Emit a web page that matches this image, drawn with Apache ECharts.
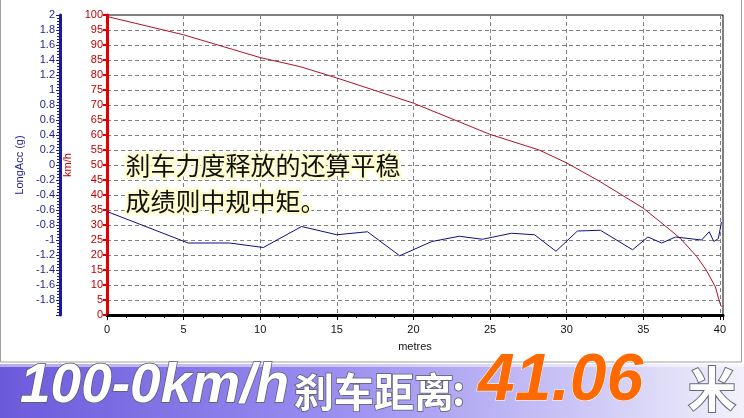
<!DOCTYPE html>
<html>
<head>
<meta charset="utf-8">
<script src="https://cdn.jsdelivr.net/npm/echarts@6/dist/echarts.min.js"></script>
<style>
html,body{margin:0;padding:0;background:#fff;}
#c{width:744px;height:418px;}
</style>
</head>
<body>
<div id="c"></div>
<script>
// Speed (km/h) vs distance (m)
const speedDist = [0, 5, 10, 12.6, 15, 17.4, 20, 25, 28.2, 30, 32.2, 35, 36.5, 37.4, 38.5, 39.1, 39.7, 40.0, 40.1];
const speedVals = [99.5, 93.4, 85.8, 82.8, 79, 75, 70.6, 60.2, 55, 50.7, 44.4, 35.6, 29.4, 25.6, 19.4, 15, 9.4, 3.9, 2.8];
// Longitudinal acceleration (g) vs distance (m)
const accDist = [0, 5.3, 8.0, 10.2, 12.7, 15.0, 17.0, 19.1, 21.2, 23.0, 24.5, 26.4, 27.9, 29.3, 30.7, 32.2, 34.3, 35.3, 36.2, 37.1, 38.8, 39.3, 39.6, 39.9, 40.1];
const accVals = [-0.62, -1.04, -1.04, -1.10, -0.82, -0.93, -0.89, -1.21, -1.02, -0.95, -0.99, -0.91, -0.93, -1.15, -0.88, -0.87, -1.13, -0.96, -1.04, -0.96, -1.00, -0.89, -1.02, -0.98, -0.76];

const xTitle = 'metres';
const speedTitle = 'km/h';
const accTitle = 'LongAcc (g)';
const noteLines = ['刹车力度释放的还算平稳', '成绩则中规中矩。'];
const bannerParts = ['100-0km/h', '刹车距离', ':', '41.06', '米'];

const chart = echarts.init(document.getElementById('c'), null, {renderer: 'canvas'});
const lab = {fontFamily: 'Liberation Sans, Arial, sans-serif', fontSize: 11};
const whiteText = {fill: '#fff', textVerticalAlign: 'bottom', stroke: '#5a5a6a', lineWidth: 1.5, shadowColor: 'rgba(40,40,60,0.6)', shadowBlur: 3, shadowOffsetX: 1, shadowOffsetY: 1};

chart.setOption({
  backgroundColor: '#fff',
  animation: false,
  grid: {left: 107, top: 15, right: 21, bottom: 103, show: true, borderColor: '#000', borderWidth: 1, backgroundColor: 'transparent'},
  xAxis: {
    type: 'value', min: 0, max: 40.2, interval: 5,
    name: xTitle, nameLocation: 'middle', nameGap: 26,
    nameTextStyle: Object.assign({color: '#111'}, lab),
    axisLine: {lineStyle: {color: '#000', width: 3}},
    axisTick: {show: true, length: 5, lineStyle: {color: '#000'}},
    minorTick: {show: true, splitNumber: 4, length: 3, lineStyle: {color: '#000'}},
    axisLabel: Object.assign({color: '#111', margin: 9, formatter: v => (Math.abs(v % 5) < 1e-6 ? String(v) : '')}, lab),
    splitLine: {show: true, lineStyle: {color: '#808080', type: [4, 3], width: 1}}
  },
  yAxis: [
    {
      type: 'value', min: 0, max: 100, interval: 5, position: 'left',
      name: speedTitle, nameLocation: 'middle', nameGap: 24, nameRotate: 90,
      nameTextStyle: Object.assign({color: '#c00000'}, lab),
      axisLine: {show: true, lineStyle: {color: '#e00000', width: 3}},
      axisTick: {show: true, length: 4, lineStyle: {color: '#e00000', width: 2}},
      axisLabel: Object.assign({color: '#c00000', margin: 4}, lab),
      splitLine: {show: true, lineStyle: {color: '#808080', type: [4, 3], width: 1}}
    },
    {
      type: 'value', min: -2, max: 2, interval: 0.2, position: 'left', offset: 47,
      name: accTitle, nameLocation: 'middle', nameGap: 32, nameRotate: 90,
      nameTextStyle: Object.assign({color: '#1f1f8f'}, lab),
      axisLine: {show: true, lineStyle: {color: '#1a1a9a', width: 3}},
      axisTick: {show: true, length: 4, lineStyle: {color: '#1a1a9a', width: 1}},
      minorTick: {show: true, splitNumber: 5, length: 3, lineStyle: {color: '#1a1a9a'}},
      axisLabel: Object.assign({color: '#1f1f8f', margin: 5, showMinLabel: false,
        formatter: v => String(Math.round(v * 10) / 10)}, lab),
      splitLine: {show: false}
    }
  ],
  series: [
    {
      type: 'line', yAxisIndex: 0, symbol: 'none', smooth: false,
      lineStyle: {color: '#b0102a', width: 1},
      data: speedDist.map((d, i) => [d, speedVals[i]])
    },
    {
      type: 'line', yAxisIndex: 1, symbol: 'none', smooth: false,
      lineStyle: {color: '#101080', width: 1},
      data: accDist.map((d, i) => [d, accVals[i]])
    }
  ],
  graphic: [
    {type: 'rect', shape: {x: 0.5, y: -2, width: 741, height: 364}, style: {fill: 'none', stroke: '#a0a0a0', lineWidth: 1}, silent: true, z: -1},
    {type: 'text', left: 123, top: 147, z: 10,
      style: {text: noteLines.join('\n'), font: '25px "Noto Sans CJK SC", sans-serif', fill: '#111', lineHeight: 36,
        stroke: 'rgba(255,252,200,0.9)', lineWidth: 5, shadowColor: 'rgba(255,245,150,1)', shadowBlur: 8}},
    {type: 'rect', shape: {x: 0, y: 364, width: 744, height: 54}, silent: true, z: 5,
      style: {fill: new echarts.graphic.LinearGradient(0, 0, 1, 0, [
        {offset: 0, color: '#6c5adc'}, {offset: 0.45, color: '#9a8ef0'}, {offset: 0.8, color: '#cfcaf6'}, {offset: 1, color: '#f2f1fc'}])}},
    {type: 'rect', shape: {x: 0, y: 364, width: 744, height: 3}, silent: true, z: 6, style: {fill: 'rgba(255,255,255,0.5)'}},
    {type: 'text', x: 20, y: 414, z: 10, style: Object.assign({text: bannerParts[0], font: 'italic bold 55px "Liberation Sans", Arial, sans-serif'}, whiteText)},
    {type: 'text', x: 294, y: 412, z: 10, style: Object.assign({text: bannerParts[1], font: 'bold 40px "Noto Sans CJK SC", sans-serif'}, whiteText)},
    {type: 'text', x: 452, y: 410, z: 10, style: Object.assign({text: bannerParts[2], font: 'bold 40px "Noto Sans CJK SC", sans-serif'}, whiteText)},
    {type: 'text', x: 478, y: 415, z: 10, style: {text: bannerParts[3], font: 'italic bold 66px "Liberation Sans", Arial, sans-serif', fill: '#ff6a00', textVerticalAlign: 'bottom', stroke: '#fff', lineWidth: 1, shadowColor: 'rgba(60,40,20,0.5)', shadowBlur: 3, shadowOffsetX: 1, shadowOffsetY: 1}},
    {type: 'text', x: 688, y: 413, z: 10, style: Object.assign({text: bannerParts[4], font: 'bold 48px "Noto Sans CJK SC", sans-serif'}, whiteText, {stroke: '#6a6a7a', lineWidth: 2})}
  ]
});
</script>
</body>
</html>
